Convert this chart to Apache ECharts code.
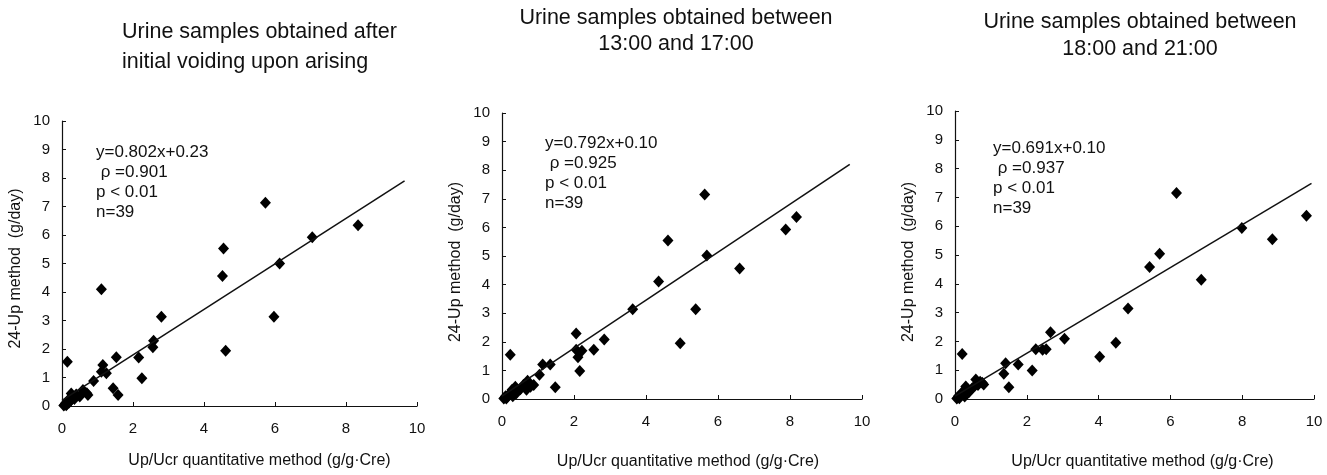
<!DOCTYPE html>
<html>
<head>
<meta charset="utf-8">
<script src="https://cdn.jsdelivr.net/npm/echarts@6/dist/echarts.min.js"></script>
<style>
  html, body { margin: 0; padding: 0; background: #fff; }
  #chart { width: 1327px; height: 475px; }
</style>
</head>
<body>
<div id="chart"></div>
<script>
// --- data ----------------------------------------------------------------
const panelTitles = [
  "Urine samples obtained after\ninitial voiding upon arising",
  "Urine samples obtained between\n13:00 and 17:00",
  "Urine samples obtained between\n18:00 and 21:00"
];
const panelStats = [
  ["y=0.802x+0.23", " ρ =0.901", "p < 0.01", "n=39"],
  ["y=0.792x+0.10", " ρ =0.925", "p < 0.01", "n=39"],
  ["y=0.691x+0.10", " ρ =0.937", "p < 0.01", "n=39"]
];
const xTicks = [0, 2, 4, 6, 8, 10];
const yTicks = [0, 1, 2, 3, 4, 5, 6, 7, 8, 9, 10];

// morning samples (x = Up/Ucr, y = 24-Up)
const morningX = [0.15, 1.11, 5.73, 8.34, 7.05, 6.13, 4.55, 4.52, 5.97, 4.61, 2.80, 2.58, 2.56,
  2.16, 2.25, 1.53, 1.15, 1.11, 1.25, 0.89, 1.44, 1.58, 0.59, 0.73, 0.50, 0.26, 0.22, 0.17,
  0.05, 0.08, 0.10, 0.12, 0.15, 0.20, 0.25, 0.30, 0.35, 0.40, 0.70];
const morningY = [1.55, 4.10, 7.13, 6.34, 5.92, 5.00, 5.53, 4.56, 3.13, 1.94, 3.13, 2.29, 2.06,
  1.70, 0.97, 1.71, 1.44, 1.20, 1.15, 0.88, 0.62, 0.39, 0.56, 0.39, 0.33, 0.44, 0.27, 0.15,
  0.02, 0.05, 0.10, 0.03, 0.08, 0.12, 0.20, 0.30, 0.25, 0.40, 0.45];

// afternoon samples 13:00-17:00
const afternoonX = [0.23, 5.63, 8.18, 7.88, 4.61, 5.69, 4.35, 6.60, 5.38, 3.63, 4.95, 2.84, 2.06,
  2.55, 2.06, 2.22, 2.11, 2.16, 1.34, 1.13, 1.04, 1.48, 0.71, 0.88, 0.79, 0.68, 0.51, 0.37,
  0.28, 0.23, 0.05, 0.08, 0.10, 0.12, 0.15, 0.18, 0.30, 0.40, 0.60];
const afternoonY = [1.55, 7.15, 6.36, 5.93, 5.54, 5.02, 4.11, 4.56, 3.14, 3.14, 1.95, 2.08, 2.29,
  1.72, 1.72, 1.69, 1.46, 0.98, 1.21, 1.21, 0.85, 0.41, 0.64, 0.49, 0.43, 0.32, 0.34, 0.43,
  0.32, 0.20, 0.02, 0.05, 0.10, 0.02, 0.08, 0.15, 0.10, 0.20, 0.50];

// evening samples 18:00-21:00
const eveningX = [0.20, 6.17, 9.79, 7.99, 8.84, 5.70, 5.42, 6.86, 4.82, 4.48, 4.03, 3.05, 2.66,
  2.25, 2.44, 2.54, 2.15, 1.76, 1.41, 1.36, 1.50, 0.58, 0.76, 0.64, 0.48, 0.30, 0.27,
  0.05, 0.08, 0.10, 0.12, 0.15, 0.20, 0.25, 0.35, 0.40, 0.55, 0.70, 0.80];
const eveningY = [1.56, 7.15, 6.36, 5.94, 5.55, 5.04, 4.58, 4.14, 3.14, 1.95, 1.47, 2.09, 2.32,
  1.73, 1.71, 1.73, 0.99, 1.20, 1.24, 0.88, 0.41, 0.68, 0.56, 0.49, 0.37, 0.43, 0.09,
  0.02, 0.05, 0.10, 0.03, 0.12, 0.20, 0.30, 0.35, 0.25, 0.45, 0.60, 0.50];

// fitted lines, end points
const fitX = [[0.0, 9.65], [0.0, 9.66], [0.0, 9.93]];
const fitY = [[0.20, 7.90], [0.10, 8.20], [0.10, 7.49]];

const panelsX = [morningX, afternoonX, eveningX];
const panelsY = [morningY, afternoonY, eveningY];

// --- layout -----------------------------------------------------------------
const grids = [
  { left: 62, top: 121, width: 355, height: 285 },
  { left: 502, top: 113, width: 360, height: 293 },
  { left: 955, top: 111, width: 359, height: 295 }
];
const titlePos = [
  { left: 122, top: 17, textAlign: "left", lh: 30 },
  { left: 676, top: 5, textAlign: "center", lh: 26 },
  { left: 1140, top: 9, textAlign: "center", lh: 27 }
];
const statsPos = [{ left: 96, top: 142 }, { left: 545, top: 133 }, { left: 993, top: 138 }];
const xNameGap = [47, 55, 55];
const xNameShift = [40, 12, 16];   // left padding pushes the centred axis title to the right
const yNameShift = [10, 12, 14];   // right padding pushes the rotated title down

const FONT = "'Liberation Sans', Arial, sans-serif";

const titles = [];
panelTitles.forEach((t, i) => {
  const p = titlePos[i];
  titles.push({
    text: t, left: p.left, top: p.top, textAlign: p.textAlign, padding: 0,
    textStyle: { fontFamily: FONT, fontSize: 21.5, fontWeight: "normal", color: "#111", lineHeight: p.lh }
  });
});
panelStats.forEach((lines, i) => {
  titles.push({
    text: lines.join("\n"), left: statsPos[i].left, top: statsPos[i].top, padding: 0,
    textStyle: { fontFamily: FONT, fontSize: 17, fontWeight: "normal", color: "#111", lineHeight: 20 }
  });
});

const axisLine = { lineStyle: { color: "#111", width: 1.2 } };
const tick = { show: true, inside: true, length: 4, lineStyle: { color: "#111" } };

const option = {
  animation: false,
  backgroundColor: "#fff",
  title: titles,
  grid: grids,
  xAxis: grids.map((g, i) => ({
    type: "value", gridIndex: i, min: xTicks[0], max: xTicks[xTicks.length - 1], interval: 2,
    axisLine, axisTick: tick, splitLine: { show: false },
    axisLabel: { color: "#111", fontSize: 15, fontFamily: FONT, margin: 15 },
    name: "Up/Ucr quantitative method (g/g·Cre)", nameLocation: "middle", nameGap: xNameGap[i],
    nameTextStyle: { color: "#111", fontSize: 16, fontFamily: FONT, padding: [0, 0, 0, xNameShift[i]] }
  })),
  yAxis: grids.map((g, i) => ({
    type: "value", gridIndex: i, min: yTicks[0], max: yTicks[yTicks.length - 1], interval: 1,
    axisLine: { show: true, lineStyle: axisLine.lineStyle }, axisTick: tick,
    splitLine: { show: false },
    axisLabel: { color: "#111", fontSize: 15, fontFamily: FONT, margin: 12 },
    name: "24-Up method  (g/day)", nameLocation: "middle", nameGap: 38, nameRotate: 90,
    nameTextStyle: { color: "#111", fontSize: 16, fontFamily: FONT, padding: [0, yNameShift[i], 0, 0] }
  })),
  series: []
};

panelsX.forEach((xs, i) => {
  option.series.push({
    type: "line", xAxisIndex: i, yAxisIndex: i, showSymbol: false, silent: true,
    lineStyle: { color: "#111", width: 1.5 },
    data: fitX[i].map((x, j) => [x, fitY[i][j]])
  });
  option.series.push({
    type: "scatter", xAxisIndex: i, yAxisIndex: i, symbol: "diamond", symbolSize: [11, 12],
    itemStyle: { color: "#000", opacity: 1 },
    data: xs.map((x, j) => [x, panelsY[i][j]])
  });
});

const chart = echarts.init(document.getElementById("chart"));
chart.setOption(option);
window.addEventListener("resize", () => chart.resize());
</script>
</body>
</html>
